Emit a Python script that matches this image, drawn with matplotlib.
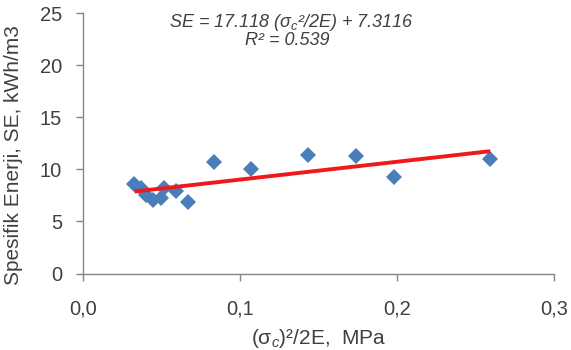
import matplotlib
matplotlib.use('Agg')
import matplotlib.pyplot as plt
import numpy as np

# data
x_vals = [0.0328, 0.0371, 0.0403, 0.0445, 0.0498, 0.0519, 0.0594, 0.0668,
          0.0833, 0.1071, 0.1432, 0.1740, 0.1978, 0.2594]
se_vals = [8.60, 8.19, 7.55, 7.07, 7.23, 8.19, 7.96, 6.90,
           10.75, 10.02, 11.39, 11.30, 9.31, 10.98]
slope, intercept = 17.118, 7.3116

x_ticks = [0.0, 0.1, 0.2, 0.3]
y_ticks = [0, 5, 10, 15, 20, 25]

plt.rcParams['font.family'] = ['Liberation Sans', 'DejaVu Sans']
plt.rcParams['mathtext.fontset'] = 'custom'
plt.rcParams['mathtext.rm'] = 'Liberation Sans'
plt.rcParams['mathtext.it'] = 'Liberation Sans:italic'

AXC = '#868686'
TXT = '#404040'

fig = plt.figure(figsize=(5.71, 3.5), dpi=100)
ax = fig.add_axes([83 / 571, 1 - 273.5 / 350, 471 / 571, 260.2 / 350])

ax.plot(x_vals, se_vals, linestyle='none', marker='D', markersize=7.8,
        color='#4a7ebb', markeredgewidth=0, zorder=3)

xf = np.array([min(x_vals), max(x_vals)])
ax.plot(xf, slope * xf + intercept, color='#f01818', linewidth=2.8,
        solid_capstyle='butt', zorder=4)

ax.set_xlim(0, 0.3)
ax.set_ylim(0, 25)
ax.set_xticks(x_ticks)
ax.set_xticklabels([f"{t:.1f}".replace('.', ',') for t in x_ticks])
ax.set_yticks(y_ticks)

for s in ['top', 'right']:
    ax.spines[s].set_visible(False)
for s in ['left', 'bottom']:
    ax.spines[s].set_color(AXC)
    ax.spines[s].set_linewidth(1.0)
ax.tick_params(axis='both', colors=AXC, labelcolor=TXT, labelsize=14.5,
               length=5, width=1.0, direction='out')
ax.tick_params(axis='x', pad=14)
ax.tick_params(axis='y', pad=10)

ax.set_ylabel('Spesifik Enerji, SE, kWh/m3', fontsize=15, color=TXT)
ax.yaxis.set_label_coords(-0.127, 0.455)
ax.set_xlabel('(σ$_c$)²/2E,  MPa', fontsize=15, color=TXT)
ax.xaxis.set_label_coords(0.501, -0.206)

ax.text(0.442, 0.947, 'SE = 17.118 (σ$_c$²/2E) + 7.3116', transform=ax.transAxes,
        fontsize=13, style='italic', color=TXT, ha='center', va='baseline')
ax.text(0.433, 0.878, 'R² = 0.539', transform=ax.transAxes,
        fontsize=13, style='italic', color=TXT, ha='center', va='baseline')

fig.savefig('out.png', dpi=100)
